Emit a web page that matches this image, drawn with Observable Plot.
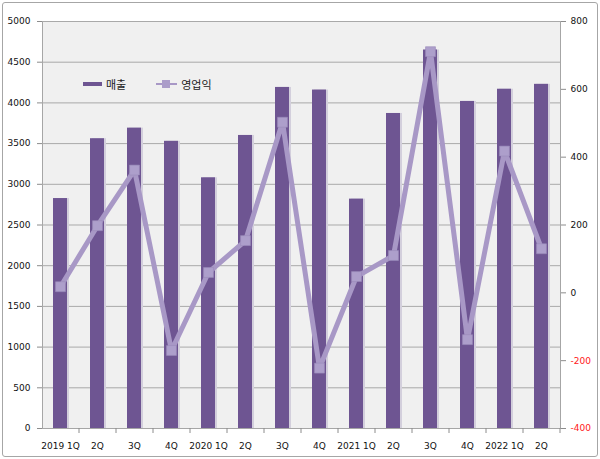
<!DOCTYPE html>
<html>
<head>
<meta charset="utf-8">
<script src="https://cdn.jsdelivr.net/npm/d3@7"></script>
<script src="https://cdn.jsdelivr.net/npm/@observablehq/plot@0.6"></script>
<style>
  html, body { margin: 0; padding: 0; background: #fff; }
  #wrap { position: relative; width: 600px; height: 459px; overflow: hidden; }
  #border { position: absolute; left: 2px; top: 2px; width: 596px; height: 455px;
            box-sizing: border-box; border: 1px solid #a6a6a6; border-radius: 3px; pointer-events: none; }
  #legend { position: absolute; left: 83px; top: 76px; font-family: "Noto Sans CJK KR", sans-serif;
            font-size: 11px; color: #222; display: flex; align-items: center; }
  .sw-bar { width: 19px; height: 4px; background: #6e5592; margin-right: 4px; }
  .sw-line { position: relative; width: 21px; height: 10px; margin-right: 4px; }
  .sw-line .ln { position: absolute; left: 0; right: 0; top: 4px; height: 2px; background: #a898c6; }
  .sw-line .mk { position: absolute; left: 6px; top: 1px; width: 8px; height: 8px; background: #ab9dc9; }
</style>
</head>
<body>
<div id="wrap"><div id="border"></div></div>
<script>
// Quarterly sales (left axis) and operating profit (right axis)
const periods = ["2019Q1","2019Q2","2019Q3","2019Q4","2020Q1","2020Q2","2020Q3","2020Q4",
                 "2021Q1","2021Q2","2021Q3","2021Q4","2022Q1","2022Q2"];
const tickLabels = ["2019 1Q","2Q","3Q","4Q","2020 1Q","2Q","3Q","4Q","2021 1Q","2Q","3Q","4Q","2022 1Q","2Q"];
const sales  = [2825, 3560, 3690, 3528, 3080, 3600, 4190, 4158, 2818, 3870, 4650, 4018, 4168, 4228];
const profit = [18, 198, 362, -170, 60, 154, 503, -222, 48, 110, 711, -138, 418, 130];
const salesTicks  = [0, 500, 1000, 1500, 2000, 2500, 3000, 3500, 4000, 4500, 5000];
const profitTicks = [-400, -200, 0, 200, 400, 600, 800];

// Map the profit range [-400, 800] onto the sales range [0, 5000]
const toLeft = v => (v + 400) * 5000 / 1200;
const fromLeft = y => Math.round(y * 1200 / 5000 - 400);

const rows = periods.map((p, i) => ({period: p, sales: sales[i], profit: profit[i]}));
const labelOf = new Map(periods.map((p, i) => [p, tickLabels[i]]));

const barColor = "#6e5592";
const lineColor = "#a898c6";

const chart = Plot.plot({
  width: 600,
  height: 459,
  marginLeft: 42,
  marginRight: 40,
  marginTop: 21,
  marginBottom: 31,
  style: {fontFamily: "DejaVu Sans, sans-serif", fontSize: "9px", color: "#111", background: "transparent"},
  x: {domain: periods, paddingInner: 0.62, paddingOuter: 0.31, label: null},
  y: {domain: [0, 5000], label: null},
  marks: [
    Plot.frame({fill: "#f0f0f0", stroke: "#a6a6a6"}),
    Plot.gridY(salesTicks.filter(v => v > 0), {stroke: "#a9a9a9", strokeOpacity: 1}),
    Plot.axisY(salesTicks, {anchor: "left", tickSize: 5, tickPadding: 7,
      tickFormat: d => String(d), stroke: "#8c8c8c", fill: "#111"}),
    Plot.axisY(profitTicks.filter(v => v >= 0).map(toLeft), {anchor: "right", tickSize: 5, tickPadding: 5,
      tickFormat: d => String(fromLeft(d)), stroke: "#8c8c8c", fill: "#111"}),
    Plot.axisY(profitTicks.filter(v => v < 0).map(toLeft), {anchor: "right", tickSize: 5, tickPadding: 5,
      tickFormat: d => String(fromLeft(d)), stroke: "#8c8c8c", fill: "#ff2020"}),
    // tick marks at the boundaries between quarters
    Plot.axisX({anchor: "bottom", tickSize: 5, dx: 18.5, tickFormat: () => "", stroke: "#8c8c8c"}),
    Plot.axisX({anchor: "bottom", tickSize: 0, tickPadding: 14, tickFormat: d => labelOf.get(d),
      fill: "#111"}),
    // soft shadow to the right of each bar
    Plot.barY(rows, {x: "period", y: "sales", dx: 2, fill: "#d3cfdc"}),
    Plot.barY(rows, {x: "period", y: "sales", fill: barColor}),
    Plot.line(rows, {x: "period", y: d => toLeft(d.profit), stroke: lineColor, strokeWidth: 5,
      strokeLinejoin: "miter"}),
    Plot.dot(rows, {x: "period", y: d => toLeft(d.profit), symbol: "square", r: 5.6,
      fill: "#ad9fcb", stroke: "#9a8bbb", strokeWidth: 0.6})
  ]
});

const wrap = document.getElementById("wrap");
wrap.insertBefore(chart, wrap.firstChild);

const legend = document.createElement("div");
legend.id = "legend";
legend.innerHTML =
  '<div class="sw-bar"></div><span>매출</span>' +
  '<span style="width:30px"></span>' +
  '<div class="sw-line"><div class="ln"></div><div class="mk"></div></div><span>영업익</span>';
wrap.appendChild(legend);
</script>
</body>
</html>
